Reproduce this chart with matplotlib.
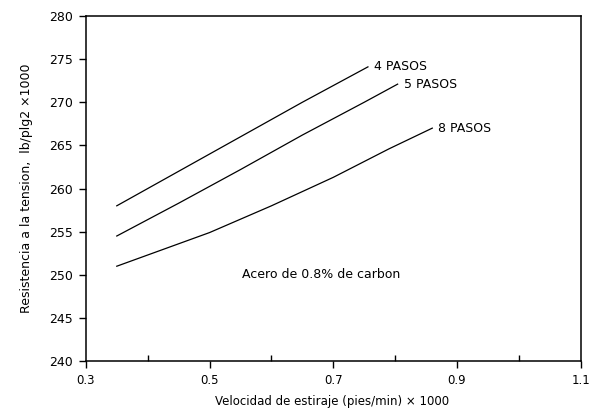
import numpy as np
import matplotlib.pyplot as plt
from matplotlib.ticker import MultipleLocator

# velocidad de estiraje (x1000 pies/min) y resistencia (x1000 lb/plg2)
x4 = [0.35, 0.45, 0.55, 0.65, 0.756]
y4 = [258.0, 262.0, 266.0, 270.0, 274.1]
x5 = [0.35, 0.45, 0.55, 0.65, 0.75, 0.804]
y5 = [254.5, 258.3, 262.2, 266.2, 270.0, 272.1]
x8 = [0.35, 0.5, 0.6, 0.7, 0.79, 0.86]
y8 = [251.0, 254.9, 258.0, 261.3, 264.6, 267.0]
labels = ['4 PASOS', '5 PASOS', '8 PASOS']

fs = 9

fig = plt.figure(figsize=(5.92, 4.09), dpi=100)
ax = fig.add_axes([0.145, 0.117, 0.836, 0.844])

for xs, ys, lab in zip([x4, x5, x8], [y4, y5, y8], labels):
    ax.plot(xs, ys, color='black', linewidth=0.9)
    ax.text(xs[-1] + 0.01, ys[-1], lab, fontsize=fs, va='center', ha='left')

ax.text(0.552, 250, 'Acero de 0.8% de carbon', fontsize=fs, va='center', ha='left')

ax.set_xlim(0.3, 1.1)
ax.set_ylim(240, 280)
ax.xaxis.set_minor_locator(MultipleLocator(0.1))
ax.yaxis.set_major_locator(MultipleLocator(5))
ax.set_xticks([0.3, 0.5, 0.7, 0.9, 1.1])
ax.set_xticklabels(['0.3', '0.5', '0.7', '0.9', '1.1'])
ax.tick_params(axis='both', which='major', direction='out', length=5, width=1,
               labelsize=fs, pad=4)
ax.tick_params(axis='x', which='major', labelsize=8.5)
ax.tick_params(axis='x', which='minor', direction='in', length=4, width=1)

for s in ax.spines.values():
    s.set_linewidth(1.1)

ax.set_xlabel('Velocidad de estiraje (pies/min) × 1000', fontsize=8.5)
ax.xaxis.set_label_coords(0.497, -0.097)
ax.set_ylabel('Resistencia a la tension,  lb/plg2 ×1000', fontsize=fs, labelpad=12)

fig.savefig('out.png', dpi=100)
